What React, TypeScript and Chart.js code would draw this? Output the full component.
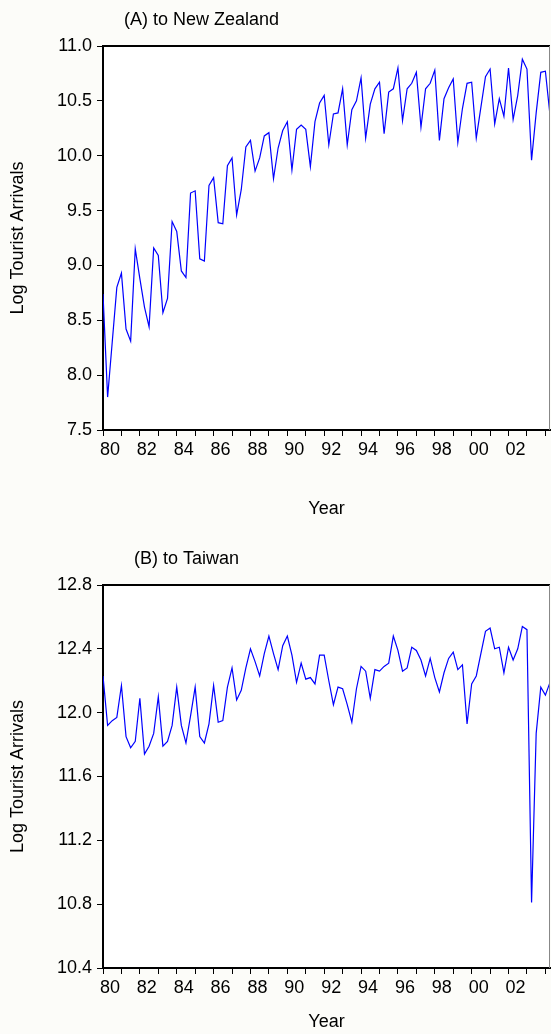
import React, { useEffect, useRef } from 'react';
import { Chart, registerables } from 'chart.js';

Chart.register(...registerables);

// Quarterly observations 1980Q1 .. 2004Q2
const START_YEAR = 1980;
const N_OBS = 98;
const QUARTERS: string[] = Array.from({ length: N_OBS }, (_, i) => `${START_YEAR + Math.floor(i / 4)}Q${(i % 4) + 1}`);

// (A) Log tourist arrivals to New Zealand
const NZ_ARRIVALS: number[] = [
  8.74, 7.80, 8.30, 8.80, 8.93, 8.42, 8.31, 9.15, 8.88, 8.62,
  8.44, 9.16, 9.09, 8.57, 8.70, 9.40, 9.31, 8.95, 8.89, 9.66,
  9.68, 9.06, 9.04, 9.73, 9.80, 9.39, 9.38, 9.91, 9.98, 9.46,
  9.69, 10.08, 10.14, 9.86, 9.98, 10.18, 10.21, 9.79, 10.07, 10.23,
  10.31, 9.87, 10.24, 10.28, 10.24, 9.90, 10.31, 10.48, 10.55, 10.10,
  10.38, 10.39, 10.61, 10.10, 10.42, 10.50, 10.71, 10.16, 10.47, 10.61,
  10.67, 10.20, 10.58, 10.61, 10.80, 10.32, 10.61, 10.66, 10.76, 10.26,
  10.61, 10.66, 10.78, 10.14, 10.52, 10.62, 10.70, 10.12, 10.43, 10.66,
  10.67, 10.16, 10.44, 10.72, 10.79, 10.29, 10.52, 10.36, 10.80, 10.33,
  10.55, 10.88, 10.79, 9.96, 10.39, 10.76, 10.77, 10.37,
];

// (B) Log tourist arrivals to Taiwan
const TW_ARRIVALS: number[] = [
  12.23, 11.92, 11.95, 11.97, 12.17, 11.85, 11.78, 11.82, 12.09, 11.74,
  11.79, 11.87, 12.10, 11.79, 11.82, 11.92, 12.16, 11.92, 11.81, 11.98,
  12.16, 11.85, 11.81, 11.93, 12.17, 11.94, 11.95, 12.16, 12.28, 12.08,
  12.14, 12.28, 12.40, 12.32, 12.23, 12.37, 12.48, 12.37, 12.27, 12.42,
  12.48, 12.36, 12.19, 12.31, 12.21, 12.22, 12.18, 12.36, 12.36, 12.20,
  12.05, 12.16, 12.15, 12.05, 11.94, 12.15, 12.29, 12.26, 12.09, 12.27,
  12.26, 12.29, 12.31, 12.48, 12.39, 12.26, 12.28, 12.41, 12.39, 12.33,
  12.23, 12.34, 12.22, 12.13, 12.25, 12.34, 12.38, 12.27, 12.30, 11.93,
  12.18, 12.23, 12.37, 12.51, 12.53, 12.40, 12.41, 12.25, 12.41, 12.33,
  12.40, 12.54, 12.52, 10.81, 11.87, 12.16, 12.11, 12.19,
];

const YEAR_TICKS: number[] = [
  1980, 1981, 1982, 1983, 1984, 1985, 1986, 1987, 1988, 1989, 1990, 1991,
  1992, 1993, 1994, 1995, 1996, 1997, 1998, 1999, 2000, 2001, 2002, 2003, 2004,
];
const YEAR_LABELS: string[] = [
  '80', '', '82', '', '84', '', '86', '', '88', '', '90', '',
  '92', '', '94', '', '96', '', '98', '', '00', '', '02', '', '',
];
const NZ_Y_TICKS: number[] = [7.5, 8.0, 8.5, 9.0, 9.5, 10.0, 10.5, 11.0];
const TW_Y_TICKS: number[] = [10.4, 10.8, 11.2, 11.6, 12.0, 12.4, 12.8];

const TITLE_A = '(A) to New Zealand';
const TITLE_B = '(B) to Taiwan';
const Y_TITLE = 'Log Tourist Arrivals';
const X_TITLE = 'Year';

const FONT_FAMILY = '"Liberation Sans", Arial, Helvetica, sans-serif';
const FONT_SIZE = 18;

function quarterToX(q: string): number {
  const year = parseInt(q.slice(0, 4), 10);
  const qq = parseInt(q.slice(5), 10);
  return year + (qq - 1) / 4;
}

const framePlugin = {
  id: 'frame',
  beforeDraw(chart: any) {
    const { ctx, chartArea } = chart;
    ctx.save();
    ctx.fillStyle = '#ffffff';
    ctx.fillRect(chartArea.left, chartArea.top, chartArea.right - chartArea.left, chartArea.bottom - chartArea.top);
    ctx.restore();
  },
  afterDraw(chart: any, _args: any, opts: any) {
    const { ctx, chartArea } = chart;
    ctx.save();
    ctx.strokeStyle = '#000';
    ctx.lineWidth = 2;
    ctx.beginPath();
    ctx.moveTo(chartArea.left - 1, chartArea.top);
    ctx.lineTo(chartArea.right, chartArea.top);
    ctx.stroke();
    ctx.strokeStyle = '#888';
    ctx.lineWidth = 1;
    ctx.beginPath();
    ctx.moveTo(chartArea.right - 0.5, chartArea.top);
    ctx.lineTo(chartArea.right - 0.5, chartArea.bottom);
    ctx.stroke();
    if (opts && opts.text) {
      ctx.fillStyle = '#000';
      ctx.font = `${FONT_SIZE}px ${FONT_FAMILY}`;
      ctx.textAlign = 'left';
      ctx.textBaseline = 'middle';
      ctx.fillText(opts.text, opts.x, opts.y);
    }
    ctx.restore();
  },
};

type PanelProps = {
  title: string;
  values: number[];
  yTicks: number[];
  height: number;
  top: number;
  areaTop: number;
  axisHeight: number;
  titleY: number;
  titleX: number;
  xTitlePad: number;
};

function Panel(p: PanelProps) {
  const ref = useRef<HTMLCanvasElement | null>(null);
  useEffect(() => {
    if (!ref.current) return;
    const data = QUARTERS.map((q, i) => ({ x: quarterToX(q), y: p.values[i] }));
    const font = { family: FONT_FAMILY, size: FONT_SIZE };
    const chart = new Chart(ref.current, {
      type: 'line',
      data: {
        datasets: [
          {
            data,
            borderColor: '#0000ff',
            borderWidth: 1.2,
            pointRadius: 0,
            tension: 0,
            fill: false,
          },
        ],
      },
      options: {
        responsive: false,
        animation: false,
        events: [],
        layout: { padding: { top: p.areaTop, right: 1, left: 0, bottom: 0 } },
        plugins: {
          legend: { display: false },
          tooltip: { enabled: false },
          frame: { text: p.title, x: p.titleX, y: p.titleY },
        } as any,
        scales: {
          x: {
            type: 'linear',
            min: quarterToX(QUARTERS[0]),
            max: quarterToX(QUARTERS[QUARTERS.length - 1]),
            afterBuildTicks: (scale: any) => {
              scale.ticks = YEAR_TICKS.map((v) => ({ value: v }));
            },
            afterFit: (scale: any) => {
              scale.height = p.axisHeight;
            },
            border: { display: true, color: '#000', width: 2 },
            grid: { display: true, drawOnChartArea: false, drawTicks: true, tickLength: 6, tickColor: '#000', color: '#000' },
            ticks: {
              autoSkip: false,
              maxRotation: 0,
              minRotation: 0,
              padding: 3,
              labelOffset: 7,
              color: '#000',
              font,
              callback: (v: any) => {
                const idx = YEAR_TICKS.indexOf(Math.round(Number(v)));
                return idx >= 0 ? YEAR_LABELS[idx] : '';
              },
            },
            title: { display: true, text: X_TITLE, color: '#000', font, padding: { top: 0, bottom: p.xTitlePad } },
          },
          y: {
            type: 'linear',
            min: p.yTicks[0],
            max: p.yTicks[p.yTicks.length - 1],
            afterBuildTicks: (scale: any) => {
              scale.ticks = p.yTicks.map((v) => ({ value: v }));
            },
            afterFit: (scale: any) => {
              scale.width = 103;
            },
            border: { display: true, color: '#000', width: 2 },
            grid: { display: true, drawOnChartArea: false, drawTicks: true, tickLength: 6, tickColor: '#000', color: '#000' },
            ticks: {
              padding: 5,
              color: '#000',
              font,
              callback: (v: any) => Number(v).toFixed(1),
            },
            title: { display: true, text: Y_TITLE, color: '#000', font, padding: { top: 7, bottom: 0 } },
          },
        },
      },
      plugins: [framePlugin],
    } as any);
    return () => chart.destroy();
  }, []);
  return (
    <canvas
      ref={ref}
      width={551}
      height={p.height}
      style={{ position: 'absolute', left: 0, top: p.top, width: 551, height: p.height, display: 'block' }}
    />
  );
}

export default function App() {
  return (
    <div style={{ position: 'absolute', left: 0, top: 0, width: 551, height: 1034, background: '#fcfcf9', overflow: 'hidden' }}>
      <Panel title={TITLE_A} values={NZ_ARRIVALS} yTicks={NZ_Y_TICKS} height={535} top={0} areaTop={46} axisHeight={105} titleX={124} titleY={20} xTitlePad={15} />
      <Panel title={TITLE_B} values={TW_ARRIVALS} yTicks={TW_Y_TICKS} height={499} top={535} areaTop={50} axisHeight={66} titleX={134} titleY={24} xTitlePad={1} />
    </div>
  );
}
